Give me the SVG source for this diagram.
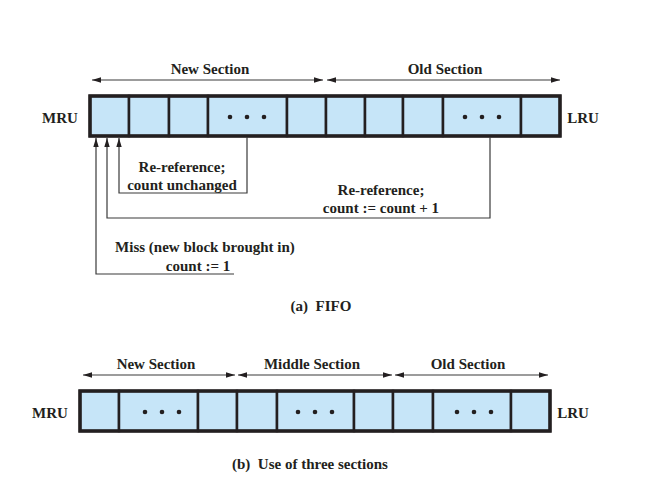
<svg xmlns="http://www.w3.org/2000/svg" width="662" height="496" viewBox="0 0 662 496">
<style>
  text { font-family: 'Liberation Serif', 'DejaVu Serif', 'Times New Roman', Times, serif; font-weight: bold; font-size: 15px; fill: #231f20; text-anchor: middle; }
  .cell { fill: #c6e5f8; stroke: #231f20; stroke-width: 2.5; }
  .frame { fill: none; stroke: #231f20; stroke-width: 3.5; }
  .dot { fill: #231f20; }
  .conn { fill: none; stroke: #3a3a3a; stroke-width: 1.2; }
  .sec { fill: none; stroke: #3a3a3a; stroke-width: 1.2; marker-start: url(#head); marker-end: url(#head); }
  .up { marker-end: url(#head); }
</style>
<defs>
  <marker id="head" viewBox="0 0 10 6" refX="10" refY="3" markerWidth="9" markerHeight="5.5" markerUnits="userSpaceOnUse" orient="auto-start-reverse">
    <path d="M0,0 L10,3 L0,6 Z" fill="#231f20"/>
  </marker>
</defs>
<rect width="662" height="496" fill="#ffffff"/>

<g id="top-bar">
  <rect class="cell" x="90" y="96" width="39" height="40"/>
  <rect class="cell" x="129" y="96" width="40" height="40"/>
  <rect class="cell" x="169" y="96" width="39" height="40"/>
  <rect class="cell" x="208" y="96" width="79" height="40"/>
  <rect class="cell" x="287" y="96" width="39" height="40"/>
  <rect class="cell" x="326" y="96" width="39" height="40"/>
  <rect class="cell" x="365" y="96" width="38" height="40"/>
  <rect class="cell" x="403" y="96" width="40" height="40"/>
  <rect class="cell" x="443" y="96" width="78" height="40"/>
  <rect class="cell" x="521" y="96" width="39" height="40"/>
  <rect class="frame" x="90" y="96" width="470" height="40"/>
  <circle class="dot" cx="230" cy="117" r="2.3"/>
  <circle class="dot" cx="247" cy="117" r="2.3"/>
  <circle class="dot" cx="264" cy="117" r="2.3"/>
  <circle class="dot" cx="465" cy="117" r="2.3"/>
  <circle class="dot" cx="482" cy="117" r="2.3"/>
  <circle class="dot" cx="499" cy="117" r="2.3"/>
</g>
<g id="top-mru"><text x="60" y="123">MRU</text></g>
<g id="top-lru"><text x="583" y="123">LRU</text></g>
<g id="top-new-label"><text x="210" y="74">New Section</text></g>
<g id="top-old-label"><text x="445" y="74">Old Section</text></g>
<g id="label-reref1"><text x="182" y="172">Re-reference;</text><text x="182" y="190">count unchanged</text></g>
<g id="label-reref2"><text x="381" y="195">Re-reference;</text><text x="381" y="213">count := count + 1</text></g>
<g id="label-miss"><text x="205" y="252">Miss (new block brought in)</text><text x="198" y="271">count := 1</text></g>
<g id="caption-a"><text x="321" y="311" xml:space="preserve">(a)  FIFO</text></g>

<g id="bottom-bar">
  <rect class="cell" x="80" y="391" width="39" height="40"/>
  <rect class="cell" x="119" y="391" width="79" height="40"/>
  <rect class="cell" x="198" y="391" width="39" height="40"/>
  <rect class="cell" x="237" y="391" width="40" height="40"/>
  <rect class="cell" x="277" y="391" width="77" height="40"/>
  <rect class="cell" x="354" y="391" width="39" height="40"/>
  <rect class="cell" x="393" y="391" width="40" height="40"/>
  <rect class="cell" x="433" y="391" width="78" height="40"/>
  <rect class="cell" x="511" y="391" width="39" height="40"/>
  <rect class="frame" x="80" y="391" width="470" height="40"/>
  <circle class="dot" cx="145" cy="412" r="2.3"/>
  <circle class="dot" cx="162" cy="412" r="2.3"/>
  <circle class="dot" cx="179" cy="412" r="2.3"/>
  <circle class="dot" cx="298" cy="412" r="2.3"/>
  <circle class="dot" cx="315" cy="412" r="2.3"/>
  <circle class="dot" cx="332" cy="412" r="2.3"/>
  <circle class="dot" cx="457" cy="412" r="2.3"/>
  <circle class="dot" cx="474" cy="412" r="2.3"/>
  <circle class="dot" cx="491" cy="412" r="2.3"/>
</g>
<g id="bottom-mru"><text x="50" y="418">MRU</text></g>
<g id="bottom-lru"><text x="573" y="418">LRU</text></g>
<g id="bottom-new-label"><text x="156" y="369">New Section</text></g>
<g id="bottom-middle-label"><text x="312" y="369">Middle Section</text></g>
<g id="bottom-old-label"><text x="468" y="369">Old Section</text></g>
<g id="caption-b"><text x="310" y="469" xml:space="preserve">(b)  Use of three sections</text></g>

<g id="connectors">
  <line class="sec" x1="92" y1="80" x2="323" y2="80"/>
  <line class="sec" x1="327" y1="80" x2="560" y2="80"/>
  <line class="sec" x1="83" y1="375" x2="235" y2="375"/>
  <line class="sec" x1="238" y1="375" x2="392" y2="375"/>
  <line class="sec" x1="395" y1="375" x2="548" y2="375"/>
  <path class="conn up" d="M247,137 V193 H119 V138"/>
  <path class="conn up" d="M490,137 V218 H107 V138"/>
  <path class="conn up" d="M234,274 H96 V138"/>
</g>
</svg>
